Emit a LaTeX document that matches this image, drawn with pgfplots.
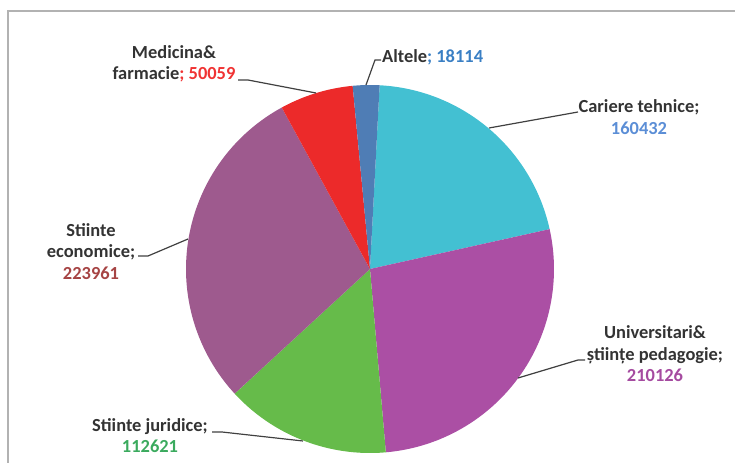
\documentclass[border=0pt]{standalone}
\usepackage{pgfplots}
\usepackage{pgfplotstable}
\pgfplotsset{compat=1.18}
\usepgfplotslibrary{polar}
\usepackage{fontspec}
\setmainfont{Carlito}

\definecolor{cCar}{HTML}{43C0D2}
\definecolor{cUni}{HTML}{AB4FA4}
\definecolor{cJur}{HTML}{66BB4A}
\definecolor{cEco}{HTML}{9E5A8E}
\definecolor{cMed}{HTML}{EC2A2A}
\definecolor{cAlt}{HTML}{4F7DB5}
\definecolor{tCar}{HTML}{5B8ED6}
\definecolor{tUni}{HTML}{A54BA0}
\definecolor{tJur}{HTML}{3BAA5E}
\definecolor{tEco}{HTML}{A64444}
\definecolor{tMed}{HTML}{F03333}
\definecolor{tAlt}{HTML}{3A7FC4}
\definecolor{leader}{HTML}{404040}

\pgfplotstableread{
name value
Cariere 160432
Universitari 210126
Juridice 112621
Economice 223961
Medicina 50059
Altele 18114
}\piedata

\begin{document}
\begin{tikzpicture}
\pgfplotstablegetelem{0}{value}\of{\piedata}\edef\vA{\pgfplotsretval}
\pgfplotstablegetelem{1}{value}\of{\piedata}\edef\vB{\pgfplotsretval}
\pgfplotstablegetelem{2}{value}\of{\piedata}\edef\vC{\pgfplotsretval}
\pgfplotstablegetelem{3}{value}\of{\piedata}\edef\vD{\pgfplotsretval}
\pgfplotstablegetelem{4}{value}\of{\piedata}\edef\vE{\pgfplotsretval}
\pgfplotstablegetelem{5}{value}\of{\piedata}\edef\vF{\pgfplotsretval}
\edef\tot{\fpeval{\vA+\vB+\vC+\vD+\vE+\vF}}
\edef\aA{87}
\edef\aB{\fpeval{round(\aA-360*\vA/\tot,4)}}
\edef\aC{\fpeval{round(\aB-360*\vB/\tot,4)}}
\edef\aD{\fpeval{round(\aC-360*\vC/\tot,4)}}
\edef\aE{\fpeval{round(\aD-360*\vD/\tot,4)}}
\edef\aF{\fpeval{round(\aE-360*\vE/\tot,4)}}
\edef\aG{\fpeval{round(\aF-360*\vF/\tot,4)}}

\path[use as bounding box] (0bp,0bp) rectangle (735bp,463bp);
\draw[draw=black!30, line width=1.4bp] (8bp,-2bp) -- (8bp,452bp) -- (737bp,452bp);

\begin{polaraxis}[
  at={(370bp,194bp)}, anchor=origin,
  scale only axis, width=368bp, height=368bp,
  xmin=0, xmax=360, ymin=0, ymax=1,
  hide axis, clip=false]
\addplot[fill=cCar, draw=none, domain=\aB:\aA, samples=80] {1} -- (axis cs:0,0) -- cycle;
\addplot[fill=cUni, draw=none, domain=\aC:\aB, samples=80] {1} -- (axis cs:0,0) -- cycle;
\addplot[fill=cJur, draw=none, domain=\aD:\aC, samples=80] {1} -- (axis cs:0,0) -- cycle;
\addplot[fill=cEco, draw=none, domain=\aE:\aD, samples=80] {1} -- (axis cs:0,0) -- cycle;
\addplot[fill=cMed, draw=none, domain=\aF:\aE, samples=80] {1} -- (axis cs:0,0) -- cycle;
\addplot[fill=cAlt, draw=none, domain=\aG:\aF, samples=80] {1} -- (axis cs:0,0) -- cycle;
\end{polaraxis}

\begin{scope}[x=1bp,y=1bp]
\begin{scope}[draw=leader, line width=1.2bp]
\draw (366,378) -- (375,403) -- (381,403);
\draw (316,370) -- (248,383) -- (238,383);
\draw (489,335) -- (578,351);
\draw (518,85) -- (578,103) -- (585,103);
\draw (303,22) -- (222,31) -- (212,31);
\draw (188,224) -- (148,207) -- (138,207);
\end{scope}

\begin{scope}[font=\fontsize{18.5}{21.5}\selectfont\bfseries, text=black!80]
\node[anchor=west, inner sep=0pt] at (382,406) {Altele{\color{tAlt}; 18114}};
\node[align=center, inner sep=0pt] at (174,399) {Medicina\&\\farmacie{\color{tMed}; 50059}};
\node[align=center, inner sep=0pt] at (639,346) {Cariere tehnice;\\{\color{tCar}160432}};
\node[align=center, inner sep=0pt] at (655,109) {Universitari\&\\științe pedagogie;\\{\color{tUni}210126}};
\node[align=center, inner sep=0pt] at (150,27.5) {Stiinte juridice;\\{\color{tJur}112621}};
\node[align=center, inner sep=0pt] at (91,211.5) {Stiinte\\economice;\\{\color{tEco}223961}};
\end{scope}
\end{scope}
\end{tikzpicture}
\end{document}
